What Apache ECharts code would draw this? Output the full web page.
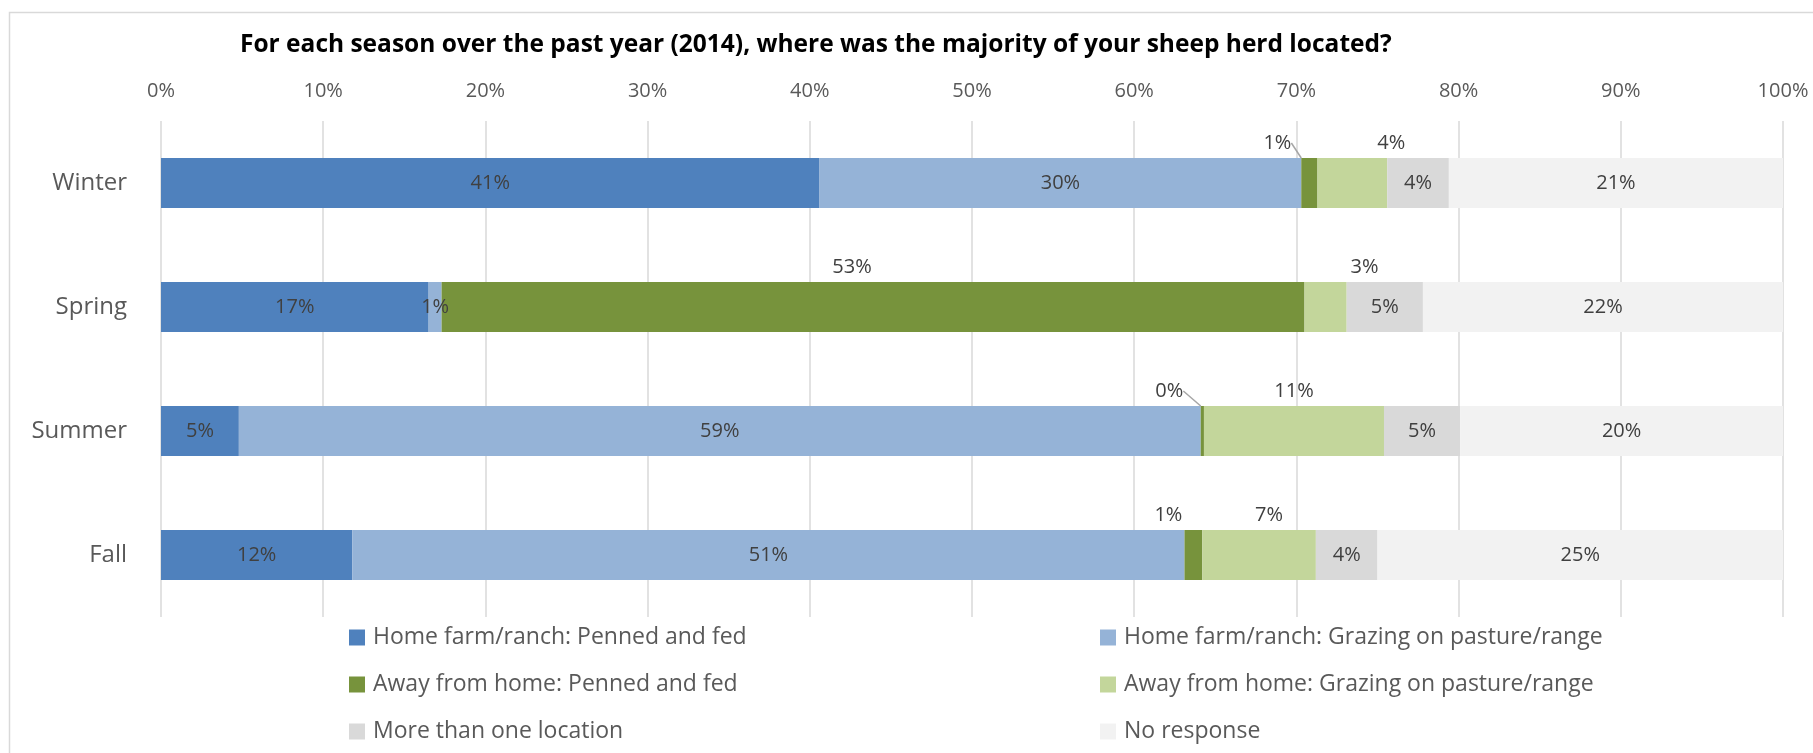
<!DOCTYPE html>
<html>
<head>
<meta charset="utf-8">
<script src="https://cdn.jsdelivr.net/npm/echarts@6/dist/echarts.min.js"></script>
<style>
  html, body { margin: 0; padding: 0; background: #ffffff; }
  #chart { width: 1813px; height: 753px; }
</style>
</head>
<body>
<div id="chart"></div>
<script>
// Seasons (top to bottom) and share of respondents per location, in percent
const seasons = ['Winter', 'Spring', 'Summer', 'Fall'];
const homePenned  = [40.6, 16.5, 4.8, 11.8];
const homeGrazing = [29.7, 0.8, 59.3, 51.3];
const awayPenned  = [1.0, 53.2, 0.2, 1.1];
const awayGrazing = [4.3, 2.6, 11.1, 7.0];
const moreThanOne = [3.8, 4.7, 4.7, 3.8];
const noResponse  = [20.6, 22.2, 19.9, 25.0];

const seriesNames = [
  'Home farm/ranch: Penned and fed',
  'Home farm/ranch: Grazing on pasture/range',
  'Away from home: Penned and fed',
  'Away from home: Grazing on pasture/range',
  'More than one location',
  'No response'
];
const axisTicks = ['0%', '10%', '20%', '30%', '40%', '50%', '60%', '70%', '80%', '90%', '100%'];

const palette = ['#4f81bd', '#95b3d7', '#77933c', '#c3d69b', '#d9d9d9', '#f2f2f2'];

// Small segments get their label lifted above the bar, nudged sideways (px)
// [season index, dx, draw leader line]
const liftedLabels = {
  2: [[0, -32, true], [1, -21, false], [2, -33, true], [3, -25, false]],
  3: [[0, 39, false], [1, 39, false], [2, 0, false], [3, 10, false]]
};

const FONT = '"Open Sans", "Liberation Sans", sans-serif';
const labelColor = '#404040';

function findLift(seriesIdx, dataIdx) {
  const lifts = liftedLabels[seriesIdx] || [];
  return lifts.find(function (l) { return l[0] === dataIdx; });
}

function buildData(values, seriesIdx) {
  return values.map(function (v, i) {
    const lift = findLift(seriesIdx, i);
    if (!lift) return v;
    const item = {
      value: v,
      label: { position: 'top', distance: 5 }
    };
    if (lift[2]) {
      item.labelLine = { show: true, lineStyle: { color: '#a6a6a6', width: 1.5 } };
    }
    return item;
  });
}

const valueSets = [homePenned, homeGrazing, awayPenned, awayGrazing, moreThanOne, noResponse];

const series = valueSets.map(function (vals, idx) {
  const s = {
    name: seriesNames[idx],
    type: 'bar',
    stack: 'share',
    barWidth: 50,
    itemStyle: { color: palette[idx] },
    label: {
      show: true,
      position: 'inside',
      color: labelColor,
      fontFamily: FONT,
      fontSize: 20,
      formatter: function (p) { return Math.round(p.value) + '%'; }
    },
    emphasis: { disabled: true },
    data: buildData(vals, idx)
  };
  if (liftedLabels[idx]) {
    s.labelLayout = function (params) {
      const lift = findLift(idx, params.dataIndex);
      return lift ? { dx: lift[1], dy: 0 } : {};
    };
  }
  return s;
});

const chart = echarts.init(document.getElementById('chart'), null, { renderer: 'canvas' });

const legendText = { color: '#595959', fontFamily: FONT, fontSize: 23, lineHeight: 22, padding: [0, 0, 0, 3] };

chart.setOption({
  animation: false,
  backgroundColor: '#ffffff',
  title: {
    text: 'For each season over the past year (2014), where was the majority of your sheep herd located?',
    left: 240,
    top: 33,
    padding: 0,
    textStyle: { color: '#000000', fontFamily: FONT, fontWeight: 'bold', fontSize: 24.5 }
  },
  graphic: [{
    type: 'rect',
    left: 7,
    top: 10,
    shape: { width: 1900, height: 800 },
    style: { fill: 'none', stroke: '#d9d9d9', lineWidth: 1.5 },
    silent: true,
    z: -1
  }],
  grid: { left: 161, right: 30, top: 121, bottom: 136 },
  xAxis: {
    type: 'value',
    position: 'top',
    min: 0,
    max: 100,
    interval: 10,
    axisLine: { show: false },
    axisTick: { show: false },
    splitLine: { show: true, lineStyle: { color: '#d9d9d9', width: 1.5 } },
    axisLabel: {
      margin: 20,
      color: '#595959',
      fontFamily: FONT,
      fontSize: 20,
      formatter: function (v) { return axisTicks[Math.round(v / 10)]; }
    }
  },
  yAxis: {
    type: 'category',
    data: seasons,
    inverse: true,
    axisLine: { show: false },
    axisTick: { show: false },
    axisLabel: { margin: 34, color: '#595959', fontFamily: FONT, fontSize: 24 }
  },
  legend: [
    {
      orient: 'vertical',
      left: 349,
      top: 626,
      padding: 0,
      itemWidth: 16,
      itemHeight: 16,
      itemGap: 24,
      icon: 'rect',
      selectedMode: false,
      textStyle: legendText,
      data: [seriesNames[0], seriesNames[2], seriesNames[4]]
    },
    {
      orient: 'vertical',
      left: 1100,
      top: 626,
      padding: 0,
      itemWidth: 16,
      itemHeight: 16,
      itemGap: 24,
      icon: 'rect',
      selectedMode: false,
      textStyle: legendText,
      data: [seriesNames[1], seriesNames[3], seriesNames[5]]
    }
  ],
  series: series
});
</script>
</body>
</html>
